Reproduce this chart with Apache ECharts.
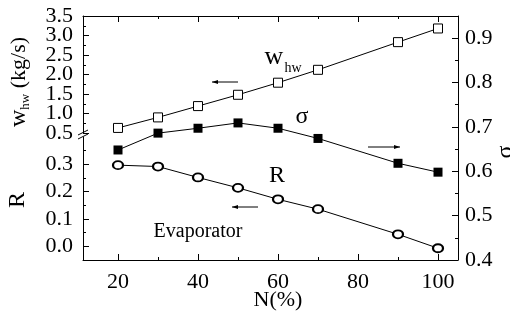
<!DOCTYPE html>
<html><head><meta charset="utf-8">
<script src="https://cdn.jsdelivr.net/npm/echarts@6/dist/echarts.min.js"></script>
<style>html,body{margin:0;padding:0;background:#fff}#c{width:510px;height:316px}</style>
</head><body><div id="c"></div>
<script>
const N = [20, 30, 40, 50, 60, 70, 90, 100];
const wHw = [0.63, 0.90, 1.19, 1.48, 1.79, 2.12, 2.83, 3.18];
const sigma = [0.648, 0.686, 0.697, 0.709, 0.697, 0.674, 0.618, 0.598];
const R = [0.297, 0.292, 0.252, 0.214, 0.172, 0.136, 0.044, -0.007];
const xTicks = [20, 40, 60, 80, 100];
const xMinor = [30, 50, 70, 90];
const wTicks = [0.5, 1.0, 1.5, 2.0, 2.5, 3.0, 3.5];
const wMinor = [0.75, 1.25, 1.75, 2.25, 2.75, 3.25];
const wLabelsA = [1.0, 2.0, 3.0];
const wLabelsB = [0.5, 1.5, 2.5, 3.5];
const sigmaTicks = [0.4, 0.5, 0.6, 0.7, 0.8, 0.9];
const sigmaMinor = [0.45, 0.55, 0.65, 0.75, 0.85];
const rTicks = [0, 0.1, 0.2, 0.3];
const rMinor = [0.05, 0.15, 0.25, 0.35];

const FONT = 'Liberation Serif';
const K = '#000';
const X_MIN = 11.25, X_MAX = 105;
const lbl = (extra) => Object.assign({color: K, fontFamily: FONT, fontSize: 22, hideOverlap: false}, extra || {});
const line = {show: true, lineStyle: {color: K, width: 1}};

function xAx(grid, pos, ticks, len, labels, showLine) {
  return {
    type: 'value', gridIndex: grid, position: pos, min: X_MIN, max: X_MAX,
    axisLine: showLine ? line : {show: false},
    axisTick: {show: true, inside: true, length: len, customValues: ticks, lineStyle: {color: K}},
    axisLabel: labels ? lbl({customValues: ticks, margin: 11}) : {show: false},
    splitLine: {show: false}
  };
}
function yAx(grid, pos, min, max, ticks, len, labels, showLine) {
  return {
    type: 'value', gridIndex: grid, position: pos, min: min, max: max,
    axisLine: showLine ? line : {show: false},
    axisTick: {show: true, inside: true, length: len, customValues: ticks, lineStyle: {color: K}},
    axisLabel: labels ? lbl({customValues: labels, showMinLabel: true, showMaxLabel: true, margin: pos === 'left' ? 10 : 7, formatter: v => v.toFixed(1)}) : {show: false},
    splitLine: {show: false}
  };
}

function arrow(x1, x2, y, headLeft) {
  const hx = headLeft ? x1 : x2;
  const d = headLeft ? 6 : -6;
  return [
    {type: 'line', shape: {x1: x1, y1: y, x2: x2, y2: y}, style: {stroke: K, lineWidth: 1}},
    {type: 'polygon', shape: {points: [[hx, y], [hx + d, y - 2], [hx + d, y + 2]]}, style: {fill: K}}
  ];
}
function txt(x, y, s, size, rot, extra) {
  return {type: 'text', x: x, y: y, rotation: rot || 0,
    style: Object.assign({text: s, fill: K, font: size + 'px "' + FONT + '"', align: 'center', verticalAlign: 'middle'}, extra || {})};
}

const chart = echarts.init(document.getElementById('c'), null, {renderer: 'canvas'});
chart.setOption({
  animation: false,
  backgroundColor: '#fff',
  grid: [
    {left: 83, right: 52, top: 16, bottom: 56},
    {left: 83, right: 52, top: 16, height: 117},
    {left: 83, right: 52, top: 137, bottom: 56}
  ],
  xAxis: [
    xAx(0, 'bottom', xTicks, 6, true, true),
    xAx(0, 'bottom', xMinor, 3, false, false),
    xAx(0, 'top', xTicks, 6, false, true),
    xAx(0, 'top', xMinor, 3, false, false),
    {type: 'value', gridIndex: 1, min: X_MIN, max: X_MAX, show: false},
    {type: 'value', gridIndex: 2, min: X_MIN, max: X_MAX, show: false}
  ],
  yAxis: [
    yAx(0, 'right', 0.4, 0.95, sigmaTicks, 6, sigmaTicks, true),
    yAx(0, 'right', 0.4, 0.95, sigmaMinor, 3, null, false),
    yAx(1, 'left', 0.5, 3.5, wTicks, 6, wLabelsA, true),
    yAx(1, 'left', 0.5, 3.5, wMinor, 3, wLabelsB, false),
    yAx(2, 'left', -0.05, 0.4, rTicks, 6, rTicks, true),
    yAx(2, 'left', -0.05, 0.4, rMinor, 3, null, false)
  ],
  series: [
    {
      type: 'line', xAxisIndex: 4, yAxisIndex: 2,
      data: N.map((n, i) => [n, wHw[i]]),
      symbol: 'rect', symbolSize: 9,
      itemStyle: {color: '#fff', borderColor: K, borderWidth: 1},
      lineStyle: {color: K, width: 1}
    },
    {
      type: 'line', xAxisIndex: 0, yAxisIndex: 0,
      data: N.map((n, i) => [n, sigma[i]]),
      symbol: 'rect', symbolSize: 9,
      itemStyle: {color: K, borderColor: K, borderWidth: 0},
      lineStyle: {color: K, width: 1}
    },
    {
      type: 'line', xAxisIndex: 5, yAxisIndex: 4,
      data: N.map((n, i) => [n, R[i]]),
      symbol: 'emptyCircle', symbolSize: [10, 8],
      itemStyle: {color: K, borderColor: K, borderWidth: 0.8},
      lineStyle: {color: K, width: 1}
    }
  ],
  graphic: [
    {type: 'line', shape: {x1: 78, y1: 135, x2: 88, y2: 130}, style: {stroke: K, lineWidth: 1}},
    {type: 'line', shape: {x1: 78, y1: 139, x2: 88, y2: 134}, style: {stroke: K, lineWidth: 1}},
    ...arrow(212, 238, 82, true),
    ...arrow(368, 400, 147, false),
    ...arrow(232, 258, 207, true),
    txt(274, 57, 'w', 26),
    txt(293, 68, 'hw', 14),
    txt(302, 117, 'σ', 24),
    txt(277, 176, 'R', 24),
    txt(198, 232, 'Evaporator', 20),
    {type: 'text', x: 19, y: 82, rotation: Math.PI / 2,
      style: {text: '{w|w}{s|hw}{u| (kg/s)}', align: 'center', verticalAlign: 'middle', fill: K,
        rich: {
          w: {fontFamily: FONT, fontSize: 24, lineHeight: 26, verticalAlign: 'middle', fill: K},
          s: {fontFamily: FONT, fontSize: 13, lineHeight: 26, verticalAlign: 'bottom', fill: K},
          u: {fontFamily: FONT, fontSize: 22, lineHeight: 26, verticalAlign: 'middle', fill: K}
        }}},
    txt(18, 200, 'R', 24, Math.PI / 2),
    txt(506, 152, 'σ', 24, Math.PI / 2),
    txt(278, 300, 'N(%)', 22)
  ]
});
</script></body></html>
